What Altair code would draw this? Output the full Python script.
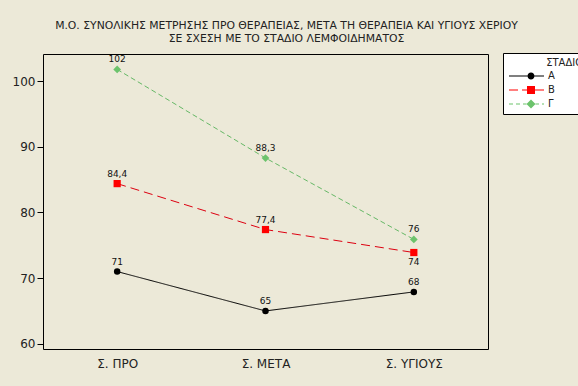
import altair as alt
import pandas as pd

stages = ["A", "B", "Γ"]
categories = ["Σ. ΠΡΟ", "Σ. ΜΕΤΑ", "Σ. ΥΓΙΟΥΣ"]
values_A = [71.0, 65.0, 67.9]
values_B = [84.4, 77.4, 73.9]
values_G = [101.8, 88.3, 75.9]
labels_A = ["71", "65", "68"]
labels_B = ["84,4", "77,4", "74"]
labels_G = ["102", "88,3", "76"]
y_ticks = [60, 70, 80, 90, 100]

title_lines = [
    "Μ.Ο. ΣΥΝΟΛΙΚΗΣ ΜΕΤΡΗΣΗΣ ΠΡΟ ΘΕΡΑΠΕΙΑΣ, ΜΕΤΑ ΤΗ ΘΕΡΑΠΕΙΑ ΚΑΙ ΥΓΙΟΥΣ ΧΕΡΙΟΥ",
    "ΣΕ ΣΧΕΣΗ ΜΕ ΤΟ ΣΤΑΔΙΟ ΛΕΜΦΟΙΔΗΜΑΤΟΣ",
]
legend_title = "ΣΤΑΔΙΟ ΛΕΜΦΟΙΔΗΜΑΤΟΣ"

marker_colors = ["#000000", "#FF0000", "#6CC36C"]
line_colors = ["#000000", "#DD0010", "#66B866"]

rows = []
for s, vals, labs in zip(stages, [values_A, values_B, values_G], [labels_A, labels_B, labels_G]):
    for i, (c, v, l) in enumerate(zip(categories, vals, labs)):
        rows.append({"stage": s, "cat": c, "order": i, "value": v, "label": l})
df = pd.DataFrame(rows)

FONT = "DejaVu Sans"

def by_stage(vals):
    return (
        alt.when(alt.datum.stage == stages[0]).then(alt.value(vals[0]))
        .when(alt.datum.stage == stages[1]).then(alt.value(vals[1]))
        .otherwise(alt.value(vals[2]))
    )

x_enc = alt.X("cat:N", sort=categories, title=None,
              scale=alt.Scale(type="point", padding=0.5),
              axis=alt.Axis(labelAngle=0, ticks=False, domain=False, labelFontSize=12,
                            labelFont=FONT, labelColor="#222222", labelPadding=9))
y_enc = alt.Y("value:Q", title=None,
              scale=alt.Scale(domain=[59.2, 104.15], nice=False, zero=False),
              axis=alt.Axis(values=y_ticks, grid=False, domain=False, tickSize=6,
                            tickColor="#000000", labelFontSize=12, labelFont=FONT,
                            labelColor="#222222", labelPadding=2))

base = alt.Chart(df)

lines = base.mark_line(strokeWidth=1).encode(
    x=x_enc, y=y_enc,
    detail="stage:N",
    order="order:Q",
    color=by_stage(line_colors),
    strokeDash=by_stage([[1, 0], [9, 5], [5, 3]]),
)

points = base.mark_point(filled=True, opacity=1, strokeWidth=0).encode(
    x=x_enc, y=y_enc,
    color=by_stage(marker_colors),
    shape=by_stage(["circle", "square", "diamond"]),
    size=by_stage([42, 52, 60]),
)

below = f"datum.stage == '{stages[1]}' && datum.cat == '{categories[2]}'"

text_above = base.mark_text(fontSize=9, font=FONT, color="#111111", dy=-10).encode(
    x=x_enc, y=y_enc, text="label:N"
).transform_filter(f"!({below})")

text_below = base.mark_text(fontSize=9, font=FONT, color="#111111", dy=9).encode(
    x=x_enc, y=y_enc, text="label:N"
).transform_filter(below)

def seg(a, b):
    return f"M{a},-0.5H{b}V0.5H{a}Z"

circle = "M-3.5,0A3.5,3.5,0,1,0,3.5,0A3.5,3.5,0,1,0,-3.5,0Z"
square = "M-4,-4H4V4H-4Z"
diamond = "M0,-4.5L4.5,0L0,4.5L-4.5,0Z"
legend_paths = [
    seg(-22, -3.5) + seg(3.5, 13) + circle,
    seg(-22, -13) + seg(-9, -4) + seg(4, 13) + square,
    seg(-22, -18) + seg(-15, -11) + seg(-8, -4.5) + seg(4.5, 8) + seg(11, 13) + diamond,
]

legend_def = alt.Legend(
    title="\u200b" + "\u00a0" * 12 + legend_title,
    orient="none", legendX=460, legendY=-1,
)

legend_layer = base.mark_point(filled=True, size=4, opacity=1, strokeWidth=0).encode(
    color=alt.Color("stage:N", scale=alt.Scale(domain=stages, range=marker_colors), legend=legend_def),
    shape=alt.Shape("stage:N", scale=alt.Scale(domain=stages, range=legend_paths), legend=legend_def),
).transform_filter("false")

chart = alt.layer(lines, points, text_above, text_below, legend_layer).properties(
    width=445,
    height=295,
    autosize=alt.AutoSizeParams(type="none"),
    padding={"left": 43, "top": 54, "right": 90, "bottom": 37},
    background="#ECE9D8",
    title=alt.TitleParams(
        title_lines, fontSize=10.8, font=FONT, fontWeight="normal", color="#222222",
        anchor="middle", dx=21, offset=9, lineHeight=12.5,
    ),
).configure_view(
    stroke="#000000", strokeWidth=1, fill="#FFFFFF",
).configure_legend(
    fillColor="#FFFFFF", strokeColor="#000000", padding=5,
    titleFont=FONT, titleFontSize=10, titleFontWeight="normal", titleColor="#222222",
    titlePadding=3, titleLimit=400,
    labelFont=FONT, labelFontSize=10, labelColor="#222222",
    symbolSize=4, symbolStrokeWidth=0, symbolOffset=18, labelOffset=12, rowPadding=4,
    cornerRadius=0,
)

chart.save("out.html", embed_options={"renderer": "svg", "actions": False})
